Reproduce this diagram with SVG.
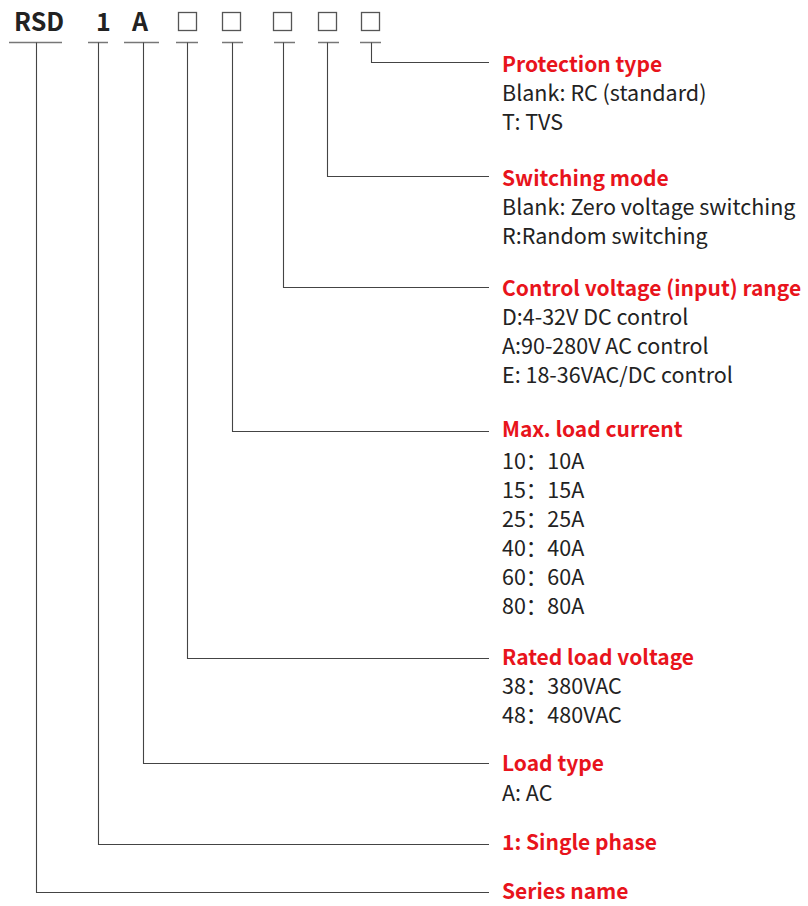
<svg xmlns="http://www.w3.org/2000/svg" width="808" height="906" viewBox="0 0 808 906">
<style>
.code{font-family:"Noto Sans CJK SC","Noto Sans",sans-serif;font-weight:bold;font-size:25px;fill:#222}
.box{fill:none;stroke:#555;stroke-width:1.3}
.ul{stroke:#777;stroke-width:1.3;fill:none}
.con{stroke:#444;stroke-width:1.1;fill:none}
.h{font-family:"Noto Sans CJK SC","Noto Sans",sans-serif;font-weight:bold;font-size:21px;fill:#e8141c}
.t{font-family:"Noto Sans CJK SC","Noto Sans",sans-serif;font-size:21.5px;fill:#222}
</style>
<rect width="808" height="906" fill="#fff"/>
<g id="code">
<text class="code" x="14" y="31">RSD</text>
<text class="code" x="96" y="31">1</text>
<text class="code" x="132" y="31">A</text>
<rect class="box" x="178.5" y="12.5" width="18" height="18"/>
<rect class="box" x="222.5" y="12.5" width="18" height="18"/>
<rect class="box" x="273.5" y="12.5" width="18" height="18"/>
<rect class="box" x="318.5" y="12.5" width="18" height="18"/>
<rect class="box" x="361.5" y="12.5" width="18" height="18"/>
<path class="ul" d="M9 42.5H62M88 42.5H108M124 42.5H159M176 42.5H198M222 42.5H243M274 42.5H295M318 42.5H339M360 42.5H381"/>
</g>
<g id="connectors">
<path class="con" d="M371.5 42.5V62.5H489"/>
<path class="con" d="M327.5 42.5V176.5H489"/>
<path class="con" d="M283.5 42.5V287.5H489"/>
<path class="con" d="M232.5 42.5V431.5H489"/>
<path class="con" d="M187.5 42.5V658.5H489"/>
<path class="con" d="M143.5 42.5V763.5H489"/>
<path class="con" d="M98.5 42.5V844.5H489"/>
<path class="con" d="M36.5 42.5V892.5H489"/>
</g>
<g id="protection">
<text class="h" x="502" y="72">Protection type</text>
<text class="t" x="502" y="101">Blank: RC (standard)</text>
<text class="t" x="502" y="130">T: TVS</text>
</g>
<g id="switching">
<text class="h" x="502" y="186">Switching mode</text>
<text class="t" x="502" y="215">Blank: Zero voltage switching</text>
<text class="t" x="502" y="244">R:Random switching</text>
</g>
<g id="control">
<text class="h" x="502" y="296">Control voltage (input) range</text>
<text class="t" x="502" y="325">D:4-32V DC control</text>
<text class="t" x="502" y="354">A:90-280V AC control</text>
<text class="t" x="502" y="383">E: 18-36VAC/DC control</text>
</g>
<g id="current">
<text class="h" x="502" y="437">Max. load current</text>
<text class="t" x="502" y="469">10：10A</text>
<text class="t" x="502" y="498">15：15A</text>
<text class="t" x="502" y="527">25：25A</text>
<text class="t" x="502" y="556">40：40A</text>
<text class="t" x="502" y="585">60：60A</text>
<text class="t" x="502" y="614">80：80A</text>
</g>
<g id="voltage">
<text class="h" x="502" y="665">Rated load voltage</text>
<text class="t" x="502" y="694">38：380VAC</text>
<text class="t" x="502" y="723">48：480VAC</text>
</g>
<g id="loadtype">
<text class="h" x="502" y="771">Load type</text>
<text class="t" x="502" y="801">A: AC</text>
</g>
<g id="phase">
<text class="h" x="502" y="850">1: Single phase</text>
</g>
<g id="series">
<text class="h" x="502" y="899">Series name</text>
</g>
</svg>
